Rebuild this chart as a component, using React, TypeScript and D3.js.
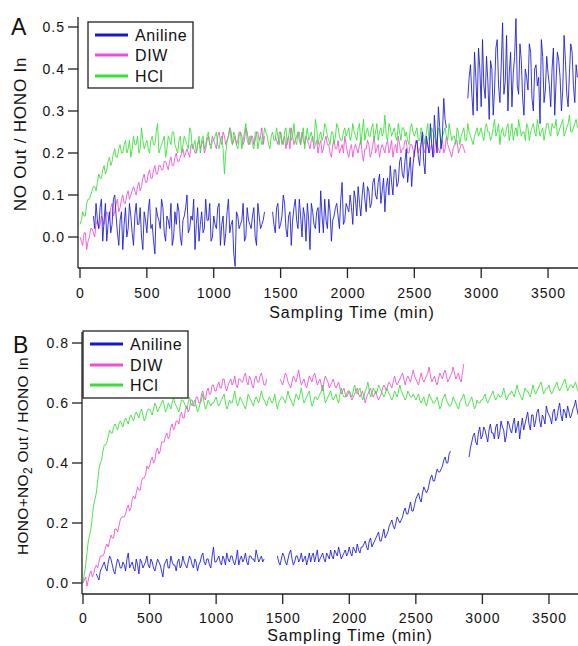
import React from "react";
import * as d3 from "d3";

// ---------- shared axis data ----------
const xTicks = [0, 500, 1000, 1500, 2000, 2500, 3000, 3500];
const yTicksA = [0, 0.1, 0.2, 0.3, 0.4, 0.5];
const yTicksB = [0, 0.2, 0.4, 0.6, 0.8];
const seriesNames = ["Aniline", "DIW", "HCl"];
const seriesColors = ["#1616d8", "#f04cd4", "#33e033"];

// Each segment: readings every 20 min over [start, end], plus the readings
// taken halfway between them ("Mid" arrays).

// ---------- Panel A: NO Out / HONO In ----------
const aAniline1Span = [100, 1380];
const aAniline1 = [0.05,0.08,0.02,0.09,0.04,-0.01,0.06,0.03,0.10,0.01,0.04,-0.03,0.07,0.02,0.05,-0.02,0.08,0.03,0.00,0.06,0.01,0.09,0.03,-0.04,0.05,0.02,0.07,-0.01,0.04,0.08,0.00,0.03,0.06,-0.02,0.05,0.10,0.02,0.04,-0.03,0.07,0.03,0.01,0.09,0.04,-0.01,0.05,0.02,0.08,0.03,-0.02,0.06,0.01,0.04,-0.07,0.05,0.03,0.08,0.00,0.04,0.02,0.07,-0.02,0.05,0.03,0.06];
const aAniline1Mid = [0.02,0.04,0.07,-0.01,0.08,0.03,0.01,0.09,0.05,-0.02,0.06,0.03,0.00,0.08,0.01,0.05,0.03,0.07,-0.03,0.04,0.06,0.02,-0.01,0.07,0.04,0.09,0.01,0.05,0.02,-0.02,0.06,0.08,0.00,0.04,0.07,0.01,0.05,0.09,0.03,-0.01,0.06,0.02,0.04,0.08,0.00,0.03,0.07,-0.02,0.05,0.01,0.09,0.03,-0.04,0.06,0.02,0.04,-0.01,0.07,0.03,0.05,0.00,0.08,0.02,0.04];
const aAniline2Span = [1440, 2740];
const aAniline2 = [0.06,0.01,0.08,0.03,0.10,0.02,0.05,-0.02,0.07,0.04,0.09,0.00,0.05,0.08,-0.03,0.06,0.02,0.07,0.11,0.01,0.04,0.09,-0.01,0.05,0.08,0.02,0.13,0.04,0.07,0.10,0.03,0.09,0.12,0.05,0.13,0.06,0.11,0.08,0.14,0.09,0.15,0.11,0.06,0.14,0.17,0.10,0.16,0.13,0.19,0.14,0.21,0.16,0.12,0.20,0.23,0.17,0.25,0.15,0.22,0.27,0.19,0.24,0.31,0.21,0.33,0.26];
const aAniline2Mid = [0.03,0.07,0.02,0.05,0.08,0.00,0.06,0.04,0.09,0.02,0.05,0.07,-0.01,0.04,0.08,0.03,0.06,0.01,0.05,0.09,0.02,0.06,0.04,0.07,0.05,0.09,0.03,0.08,0.06,0.07,0.11,0.05,0.08,0.10,0.09,0.12,0.07,0.13,0.10,0.13,0.08,0.14,0.12,0.10,0.13,0.16,0.12,0.18,0.15,0.18,0.13,0.19,0.17,0.22,0.19,0.22,0.18,0.24,0.20,0.22,0.29,0.20,0.26,0.24,0.28];
const aAniline3Span = [2900, 3720];
const aAniline3 = [0.33,0.41,0.29,0.38,0.45,0.31,0.36,0.43,0.28,0.40,0.35,0.47,0.32,0.51,0.37,0.30,0.44,0.39,0.52,0.34,0.42,0.29,0.38,0.46,0.33,0.40,0.36,0.27,0.43,0.35,0.39,0.31,0.45,0.37,0.42,0.30,0.48,0.34,0.39,0.44,0.32,0.38];
const aAniline3Mid = [0.38,0.34,0.44,0.30,0.40,0.47,0.33,0.37,0.42,0.29,0.45,0.36,0.41,0.34,0.48,0.39,0.31,0.43,0.36,0.46,0.33,0.40,0.35,0.44,0.30,0.41,0.38,0.47,0.32,0.43,0.36,0.40,0.29,0.44,0.38,0.35,0.42,0.31,0.46,0.36,0.41];
const aDIW1Span = [0, 1380];
const aDIW1 = [0.00,-0.02,0.01,-0.01,0.02,0.01,0.03,0.02,0.05,0.03,0.06,0.04,0.08,0.06,0.09,0.07,0.10,0.08,0.11,0.10,0.12,0.10,0.13,0.12,0.15,0.13,0.16,0.14,0.17,0.15,0.17,0.16,0.18,0.16,0.19,0.17,0.20,0.18,0.20,0.19,0.21,0.19,0.22,0.20,0.22,0.21,0.23,0.21,0.24,0.22,0.23,0.21,0.25,0.22,0.24,0.23,0.26,0.22,0.24,0.23,0.25,0.22,0.26,0.23,0.24,0.22,0.25,0.23,0.26,0.24];
const aDIW1Mid = [-0.01,0.01,-0.03,0.00,0.02,0.00,0.04,0.03,0.04,0.05,0.05,0.07,0.05,0.08,0.06,0.09,0.08,0.10,0.09,0.11,0.11,0.12,0.11,0.14,0.13,0.15,0.14,0.16,0.15,0.17,0.16,0.18,0.17,0.18,0.17,0.19,0.18,0.19,0.21,0.20,0.20,0.22,0.21,0.20,0.23,0.22,0.20,0.23,0.22,0.24,0.22,0.24,0.23,0.25,0.22,0.24,0.25,0.23,0.22,0.25,0.24,0.23,0.25,0.22,0.24,0.23,0.25,0.24,0.22];
const aDIW2Span = [1460, 2880];
const aDIW2 = [0.24,0.22,0.25,0.23,0.21,0.24,0.26,0.22,0.24,0.23,0.25,0.22,0.23,0.21,0.24,0.22,0.20,0.23,0.21,0.24,0.22,0.19,0.23,0.21,0.20,0.22,0.24,0.20,0.21,0.19,0.22,0.20,0.23,0.18,0.21,0.22,0.20,0.24,0.21,0.19,0.22,0.20,0.23,0.21,0.19,0.22,0.24,0.20,0.21,0.23,0.20,0.22,0.19,0.23,0.21,0.24,0.20,0.22,0.21,0.19,0.23,0.21,0.22,0.20,0.24,0.21,0.19,0.22,0.23,0.21,0.22,0.20];
const aDIW2Mid = [0.23,0.25,0.22,0.24,0.23,0.21,0.24,0.23,0.25,0.22,0.23,0.24,0.22,0.23,0.21,0.23,0.22,0.20,0.23,0.22,0.20,0.22,0.21,0.23,0.21,0.20,0.22,0.19,0.22,0.21,0.21,0.22,0.20,0.21,0.23,0.19,0.22,0.20,0.22,0.21,0.21,0.22,0.20,0.23,0.21,0.20,0.22,0.21,0.23,0.20,0.22,0.21,0.23,0.20,0.22,0.21,0.23,0.20,0.22,0.20,0.22,0.20,0.23,0.21,0.22,0.20,0.21,0.23,0.20,0.22,0.21];
const aHClSpan = [0, 3720];
const aHCl = [0.03,0.06,0.05,0.09,0.10,0.12,0.11,0.15,0.14,0.17,0.16,0.19,0.18,0.21,0.19,0.22,
  0.20,0.23,0.21,0.19,0.24,0.22,0.20,0.26,0.21,
  0.23,0.20,0.24,0.22,0.27,0.21,0.23,0.19,0.24,0.22,0.25,0.21,0.23,0.20,0.24,0.22,0.26,0.21,0.23,0.22,0.20,0.24,0.22,0.25,0.21,
  0.23,0.25,0.21,0.24,0.15,0.23,0.26,0.22,0.24,0.21,0.25,0.23,0.27,0.22,0.24,0.21,0.25,0.23,0.22,0.26,0.24,0.21,0.25,0.23,0.24,
  0.25,0.22,0.26,0.24,0.23,0.27,0.22,0.25,0.24,0.21,0.26,0.24,0.23,0.28,0.22,0.25,0.24,0.26,0.23,0.25,0.22,0.27,0.24,0.23,0.26,
  0.25,0.23,0.27,0.24,0.26,0.22,0.28,0.25,0.24,0.26,0.23,0.27,0.25,0.24,0.29,0.23,0.26,0.25,0.24,0.27,0.23,0.26,0.25,0.22,0.27,
  0.24,0.26,0.23,0.25,0.22,0.27,0.24,0.25,0.23,0.26,0.22,0.25,0.24,0.27,0.23,0.24,0.26,0.22,0.25,0.23,0.27,0.24,0.22,0.25,0.24,
  0.26,0.23,0.27,0.25,0.24,0.28,0.25,0.22,0.26,0.24,0.27,0.25,0.23,0.26,0.28,0.24,0.25,0.27,0.23,0.26,0.25,0.28,0.24,0.26,0.25,
  0.27,0.24,0.26,0.28,0.25,0.27,0.24,0.26,0.29,0.25,0.27,0.26];
const aHClMid = [0.04,0.05,0.08,0.09,0.11,0.12,0.13,0.14,0.16,0.15,0.18,0.17,0.20,0.19,0.21,0.20,
  0.22,0.20,0.23,0.21,0.22,0.24,0.21,0.23,0.22,
  0.21,0.23,0.22,0.25,0.20,0.22,0.24,0.21,0.23,0.25,0.22,0.20,0.24,0.22,0.23,0.21,0.25,0.22,0.20,0.24,0.23,0.21,0.24,0.22,0.23,
  0.24,0.22,0.23,0.21,0.20,0.24,0.23,0.25,0.22,0.24,0.21,0.25,0.23,0.24,0.22,0.25,0.21,0.24,0.23,0.25,0.22,0.24,0.23,0.26,0.22,
  0.23,0.25,0.22,0.26,0.24,0.23,0.25,0.22,0.26,0.24,0.23,0.25,0.22,0.26,0.24,0.23,0.27,0.24,0.22,0.25,0.24,0.26,0.23,0.25,0.24,
  0.26,0.24,0.25,0.23,0.27,0.25,0.23,0.26,0.24,0.27,0.25,0.23,0.26,0.25,0.24,0.27,0.24,0.26,0.23,0.25,0.26,0.24,0.23,0.26,0.25,
  0.25,0.23,0.26,0.24,0.25,0.23,0.26,0.24,0.22,0.25,0.24,0.26,0.23,0.25,0.24,0.22,0.25,0.24,0.26,0.23,0.25,0.23,0.24,0.26,0.25,
  0.24,0.26,0.25,0.23,0.26,0.24,0.27,0.25,0.24,0.26,0.23,0.27,0.25,0.24,0.26,0.25,0.23,0.26,0.25,0.27,0.24,0.26,0.25,0.23,0.27,
  0.25,0.27,0.26,0.24,0.26,0.28,0.25,0.27,0.25,0.26,0.28];

// ---------- Panel B: HONO+NO2 Out / HONO In ----------
const bAniline1Span = [100, 1360];
const bAniline1 = [0.03,0.01,0.05,0.07,0.04,0.09,0.06,0.03,0.08,0.05,0.07,0.04,0.10,0.06,0.05,0.08,0.03,0.07,0.06,0.09,0.05,0.07,0.04,0.08,0.06,0.02,0.07,0.05,0.09,0.06,0.04,0.08,0.06,0.07,0.05,0.09,0.06,0.08,0.04,0.07,0.10,0.06,0.08,0.05,0.12,0.07,0.09,0.06,0.08,0.10,0.07,0.09,0.06,0.11,0.08,0.07,0.10,0.06,0.09,0.08,0.11,0.07,0.09,0.08];
const bAniline1Mid = [0.02,0.04,0.06,0.05,0.07,0.08,0.04,0.06,0.07,0.05,0.06,0.08,0.05,0.07,0.04,0.06,0.08,0.05,0.07,0.06,0.08,0.05,0.06,0.07,0.04,0.06,0.08,0.05,0.07,0.06,0.07,0.05,0.09,0.06,0.07,0.08,0.05,0.07,0.06,0.09,0.07,0.08,0.06,0.09,0.07,0.08,0.07,0.09,0.06,0.08,0.09,0.07,0.08,0.06,0.09,0.08,0.07,0.09,0.08,0.07,0.09,0.08,0.07];
const bAniline2Span = [1460, 2760];
const bAniline2 = [0.09,0.06,0.10,0.07,0.08,0.11,0.06,0.09,0.07,0.10,0.08,0.06,0.10,0.09,0.07,0.11,0.08,0.10,0.07,0.09,0.11,0.08,0.10,0.12,0.08,0.10,0.09,0.12,0.09,0.11,0.13,0.10,0.12,0.14,0.11,0.15,0.13,0.15,0.17,0.14,0.18,0.16,0.19,0.21,0.18,0.22,0.20,0.22,0.25,0.23,0.27,0.24,0.28,0.30,0.27,0.32,0.30,0.33,0.36,0.34,0.38,0.37,0.39,0.42,0.40,0.44];
const bAniline2Mid = [0.07,0.08,0.09,0.06,0.10,0.08,0.07,0.09,0.08,0.07,0.09,0.08,0.07,0.10,0.09,0.07,0.09,0.08,0.10,0.08,0.09,0.11,0.09,0.10,0.09,0.11,0.10,0.10,0.12,0.10,0.11,0.12,0.13,0.12,0.14,0.12,0.14,0.16,0.14,0.16,0.15,0.17,0.20,0.19,0.20,0.21,0.21,0.24,0.23,0.25,0.24,0.26,0.29,0.28,0.30,0.31,0.31,0.35,0.34,0.36,0.37,0.38,0.41,0.40,0.43];
const bAniline3Span = [2900, 3720];
const bAniline3 = [0.42,0.47,0.50,0.46,0.52,0.49,0.51,0.47,0.53,0.50,0.52,0.48,0.54,0.51,0.49,0.53,0.50,0.55,0.52,0.48,0.55,0.53,0.57,0.51,0.56,0.54,0.58,0.52,0.55,0.59,0.56,0.53,0.58,0.55,0.60,0.54,0.57,0.59,0.55,0.58,0.61,0.56];
const bAniline3Mid = [0.45,0.49,0.47,0.50,0.48,0.52,0.49,0.51,0.50,0.48,0.53,0.50,0.52,0.47,0.54,0.51,0.53,0.50,0.54,0.52,0.51,0.55,0.53,0.56,0.52,0.57,0.54,0.56,0.53,0.57,0.55,0.57,0.54,0.58,0.56,0.58,0.55,0.57,0.56,0.59,0.58];
const bDIW1Span = [0, 1380];
const bDIW1 = [0.00,0.02,0.01,0.04,0.03,0.06,0.07,0.09,0.10,0.13,0.14,0.15,0.18,0.17,0.21,0.22,0.23,0.26,0.25,0.29,0.30,0.31,0.34,0.35,0.39,0.39,0.42,0.41,0.45,0.44,0.47,0.49,0.48,0.52,0.51,0.54,0.53,0.57,0.55,0.59,0.58,0.61,0.59,0.62,0.60,0.64,0.61,0.65,0.63,0.66,0.64,0.67,0.65,0.68,0.64,0.67,0.66,0.69,0.65,0.68,0.67,0.70,0.66,0.68,0.65,0.69,0.67,0.70,0.66,0.68];
const bDIW1Mid = [0.01,-0.01,0.03,0.02,0.05,0.05,0.09,0.09,0.12,0.12,0.16,0.15,0.18,0.19,0.22,0.22,0.25,0.24,0.28,0.28,0.32,0.31,0.35,0.36,0.38,0.41,0.40,0.44,0.43,0.47,0.47,0.50,0.49,0.53,0.52,0.54,0.56,0.55,0.58,0.57,0.61,0.59,0.62,0.60,0.63,0.62,0.64,0.63,0.66,0.64,0.66,0.65,0.68,0.65,0.66,0.68,0.67,0.66,0.68,0.67,0.69,0.67,0.69,0.66,0.68,0.67,0.69,0.68,0.66];
const bDIW2Span = [1480, 2860];
const bDIW2 = [0.68,0.66,0.70,0.67,0.65,0.69,0.67,0.71,0.66,0.68,0.65,0.69,0.67,0.70,0.66,0.68,0.64,0.69,0.67,0.66,0.68,0.65,0.67,0.63,0.65,0.62,0.64,0.61,0.63,0.65,0.62,0.64,0.60,0.63,0.65,0.62,0.64,0.61,0.63,0.66,0.64,0.67,0.65,0.69,0.66,0.68,0.70,0.66,0.69,0.67,0.71,0.68,0.66,0.70,0.67,0.69,0.72,0.67,0.69,0.66,0.70,0.68,0.71,0.67,0.69,0.72,0.68,0.70,0.67,0.73];
const bDIW2Mid = [0.67,0.68,0.69,0.66,0.67,0.68,0.69,0.68,0.67,0.66,0.67,0.68,0.69,0.68,0.67,0.66,0.67,0.68,0.65,0.67,0.66,0.66,0.65,0.64,0.63,0.63,0.62,0.62,0.64,0.63,0.63,0.62,0.62,0.64,0.63,0.63,0.62,0.62,0.65,0.65,0.66,0.66,0.67,0.67,0.67,0.69,0.68,0.68,0.68,0.69,0.69,0.67,0.68,0.68,0.68,0.70,0.69,0.68,0.67,0.68,0.69,0.70,0.69,0.68,0.70,0.70,0.69,0.68,0.70];
const bHClSpan = [0, 3720];
const bHCl = [0.00,0.06,0.14,0.18,0.26,0.30,0.38,0.41,0.46,0.47,0.51,
  0.50,0.53,0.51,0.54,0.52,0.55,0.53,0.56,0.54,0.57,0.55,0.58,0.54,0.57,
  0.58,0.56,0.60,0.57,0.59,0.61,0.57,0.60,0.58,0.62,0.59,0.57,0.61,0.60,0.58,0.62,0.59,0.61,0.57,0.60,0.63,0.58,0.61,0.59,0.60,
  0.62,0.59,0.61,0.63,0.58,0.61,0.60,0.64,0.59,0.62,0.60,0.58,0.63,0.61,0.59,0.62,0.60,0.64,0.61,0.59,0.62,0.60,0.63,0.58,0.61,
  0.62,0.60,0.64,0.61,0.59,0.63,0.61,0.65,0.60,0.62,0.64,0.59,0.62,0.61,0.63,0.66,0.60,0.62,0.64,0.61,0.63,0.60,0.65,0.62,0.63,
  0.64,0.62,0.66,0.63,0.65,0.61,0.64,0.67,0.62,0.65,0.63,0.66,0.64,0.62,0.65,0.63,0.61,0.64,0.62,0.66,0.63,0.61,0.64,0.62,0.63,
  0.61,0.63,0.60,0.62,0.59,0.63,0.61,0.60,0.62,0.58,0.61,0.63,0.60,0.59,0.62,0.60,0.58,0.61,0.63,0.59,0.60,0.62,0.58,0.61,0.60,
  0.61,0.63,0.60,0.62,0.64,0.61,0.63,0.62,0.65,0.61,0.63,0.64,0.62,0.66,0.63,0.61,0.65,0.64,0.62,0.66,0.63,0.65,0.67,0.63,0.65,
  0.66,0.63,0.65,0.67,0.64,0.66,0.68,0.64,0.66,0.65,0.67,0.64];
const bHClMid = [0.03,0.10,0.16,0.22,0.28,0.34,0.40,0.44,0.46,0.49,0.50,
  0.52,0.52,0.53,0.53,0.54,0.54,0.55,0.55,0.56,0.56,0.57,0.56,0.55,0.58,
  0.57,0.58,0.59,0.58,0.60,0.59,0.58,0.59,0.60,0.60,0.58,0.59,0.61,0.59,0.60,0.60,0.60,0.59,0.58,0.61,0.60,0.59,0.60,0.60,0.61,
  0.60,0.60,0.62,0.60,0.59,0.60,0.62,0.61,0.60,0.61,0.59,0.60,0.62,0.60,0.61,0.61,0.62,0.62,0.60,0.61,0.61,0.61,0.60,0.60,0.62,
  0.61,0.62,0.62,0.60,0.61,0.62,0.63,0.62,0.61,0.63,0.61,0.60,0.62,0.62,0.64,0.63,0.61,0.63,0.62,0.62,0.61,0.63,0.63,0.62,0.64,
  0.63,0.64,0.64,0.64,0.63,0.62,0.65,0.64,0.63,0.64,0.64,0.65,0.63,0.63,0.64,0.62,0.62,0.63,0.64,0.64,0.62,0.62,0.63,0.62,0.62,
  0.62,0.61,0.61,0.60,0.61,0.62,0.60,0.61,0.60,0.59,0.62,0.61,0.59,0.60,0.61,0.59,0.60,0.62,0.61,0.59,0.61,0.60,0.59,0.60,0.61,
  0.62,0.61,0.61,0.63,0.62,0.62,0.62,0.63,0.63,0.62,0.63,0.63,0.64,0.64,0.62,0.63,0.64,0.63,0.64,0.64,0.64,0.66,0.65,0.64,0.65,
  0.64,0.64,0.66,0.65,0.65,0.67,0.66,0.65,0.66,0.66,0.65];

type Seg = { span: number[]; values: number[]; mid: number[] };
const toPoints = (s: Seg): [number, number][] => {
  const merged = s.values.flatMap((v, i) => (i < s.mid.length ? [v, s.mid[i]] : [v]));
  const n = merged.length;
  const dt = (s.span[1] - s.span[0]) / (n - 1);
  return merged.map((v, i) => [s.span[0] + i * dt, v]);
};

const FONT = "'Liberation Sans', Arial, Helvetica, sans-serif";
const AXIS = "#222";

interface PanelProps {
  letter: string;
  letterPos: [number, number];
  xRange: [number, number];
  xDomain: [number, number];
  yRange: [number, number];
  yDomain: [number, number];
  yTicks: number[];
  tickLabelY: number;
  titlePos: [number, number];
  yTitle: React.ReactNode;
  yTitlePos: [number, number];
  yTitleSize: number;
  yTitleSpacing: number;
  legend: { x: number; y: number; w: number; h: number; rows: number[]; lx0: number; lx1: number; tx: number };
  series: { name: string; color: string; segs: Seg[] }[];
}

function Panel(p: PanelProps) {
  const x = d3.scaleLinear().domain(p.xDomain).range(p.xRange);
  const y = d3.scaleLinear().domain(p.yDomain).range(p.yRange);
  const line = d3.line<[number, number]>().x((d) => x(d[0])).y((d) => y(d[1]));
  const x0 = p.xRange[0];
  const yb = p.yRange[0];
  const clipId = "clip" + p.letter;
  const order = [1, 2, 0]; // DIW, HCl, then Aniline on top
  return (
    <g>
      <defs>
        <clipPath id={clipId}>
          <rect x={x0} y={p.yRange[1] - 4} width={p.xRange[1] - x0} height={yb - p.yRange[1] + 4} />
        </clipPath>
      </defs>
      <g clipPath={`url(#${clipId})`}>
        {order.map((k) => {
          const s = p.series[k];
          return s.segs.map((seg, j) => (
            <path key={s.name + j} d={line(toPoints(seg)) || ""} fill="none" stroke={s.color} strokeWidth={0.85} strokeLinejoin="round" />
          ));
        })}
      </g>
      <line x1={x0} x2={x0} y1={p.yRange[1]} y2={yb} stroke={AXIS} strokeWidth={1.3} />
      <line x1={x0} x2={p.xRange[1]} y1={yb} y2={yb} stroke={AXIS} strokeWidth={1.3} />
      {p.yTicks.map((t) => (
        <g key={"y" + t}>
          <line x1={x0 - 10} x2={x0} y1={y(t)} y2={y(t)} stroke={AXIS} strokeWidth={1.3} />
          <text x={x0 - 13} y={y(t) + 5} textAnchor="end" fontSize={14} fontFamily={FONT} letterSpacing={1} fill="#111">
            {t.toFixed(1)}
          </text>
        </g>
      ))}
      {xTicks.map((t) => (
        <g key={"x" + t}>
          <line x1={x(t)} x2={x(t)} y1={yb} y2={yb + 10} stroke={AXIS} strokeWidth={1.3} />
          <text x={x(t) + 0.5} y={p.tickLabelY} textAnchor="middle" fontSize={14} fontFamily={FONT} letterSpacing={1} fill="#111">
            {t}
          </text>
        </g>
      ))}
      <text x={p.titlePos[0]} y={p.titlePos[1]} textAnchor="middle" fontSize={16} fontFamily={FONT} letterSpacing={1} fill="#111">
        Sampling Time (min)
      </text>
      <text
        transform={`translate(${p.yTitlePos[0]},${p.yTitlePos[1]}) rotate(-90)`}
        textAnchor="middle"
        fontSize={p.yTitleSize}
        fontFamily={FONT}
        letterSpacing={p.yTitleSpacing}
        fill="#111"
      >
        {p.yTitle}
      </text>
      <text x={p.letterPos[0]} y={p.letterPos[1]} fontSize={23} fontFamily={FONT} fill="#111">
        {p.letter}
      </text>
      <rect x={p.legend.x} y={p.legend.y} width={p.legend.w} height={p.legend.h} fill="#fff" stroke={AXIS} strokeWidth={1.3} />
      {p.series.map((s, i) => (
        <g key={"lg" + s.name}>
          <line x1={p.legend.lx0} x2={p.legend.lx1} y1={p.legend.rows[i]} y2={p.legend.rows[i]} stroke={s.color} strokeWidth={3} />
          <text x={p.legend.tx} y={p.legend.rows[i] + 6} fontSize={16} fontFamily={FONT} letterSpacing={0.6} fill="#111">
            {s.name}
          </text>
        </g>
      ))}
    </g>
  );
}

export default function App() {
  const seriesA = [
    { name: seriesNames[0], color: seriesColors[0], segs: [
      { span: aAniline1Span, values: aAniline1, mid: aAniline1Mid },
      { span: aAniline2Span, values: aAniline2, mid: aAniline2Mid },
      { span: aAniline3Span, values: aAniline3, mid: aAniline3Mid },
    ] },
    { name: seriesNames[1], color: seriesColors[1], segs: [
      { span: aDIW1Span, values: aDIW1, mid: aDIW1Mid },
      { span: aDIW2Span, values: aDIW2, mid: aDIW2Mid },
    ] },
    { name: seriesNames[2], color: seriesColors[2], segs: [{ span: aHClSpan, values: aHCl, mid: aHClMid }] },
  ];
  const seriesB = [
    { name: seriesNames[0], color: seriesColors[0], segs: [
      { span: bAniline1Span, values: bAniline1, mid: bAniline1Mid },
      { span: bAniline2Span, values: bAniline2, mid: bAniline2Mid },
      { span: bAniline3Span, values: bAniline3, mid: bAniline3Mid },
    ] },
    { name: seriesNames[1], color: seriesColors[1], segs: [
      { span: bDIW1Span, values: bDIW1, mid: bDIW1Mid },
      { span: bDIW2Span, values: bDIW2, mid: bDIW2Mid },
    ] },
    { name: seriesNames[2], color: seriesColors[2], segs: [{ span: bHClSpan, values: bHCl, mid: bHClMid }] },
  ];
  return (
    <svg width={578} height={646} style={{ position: "absolute", left: 0, top: 0, background: "#fff" }}>
      <rect width={578} height={646} fill="#fff" />
      <Panel
        letter="A"
        letterPos={[11, 35]}
        xRange={[78, 578]}
        xDomain={[-15, 3724]}
        yRange={[268, 17]}
        yDomain={[-0.0738, 0.5238]}
        yTicks={yTicksA}
        tickLabelY={298}
        titlePos={[352, 318]}
        yTitle="NO Out / HONO In"
        yTitlePos={[26, 134]}
        yTitleSize={17}
        yTitleSpacing={0.8}
        legend={{ x: 88, y: 22, w: 105, h: 66, rows: [35, 55, 76], lx0: 95, lx1: 128, tx: 135 }}
        series={seriesA}
      />
      <Panel
        letter="B"
        letterPos={[13, 353]}
        xRange={[82, 578]}
        xDomain={[-7.5, 3718]}
        yRange={[594, 332]}
        yDomain={[-0.0367, 0.8367]}
        yTicks={yTicksB}
        tickLabelY={623}
        titlePos={[350, 641]}
        yTitle={<>HONO+NO<tspan fontSize={12} dy={4}>2</tspan><tspan dy={-4}> Out / HONO In</tspan></>}
        yTitlePos={[28, 456]}
        yTitleSize={15.5}
        yTitleSpacing={0.3}
        legend={{ x: 83, y: 331, w: 105, h: 67, rows: [344, 365, 385], lx0: 90, lx1: 123, tx: 130 }}
        series={seriesB}
      />
    </svg>
  );
}
